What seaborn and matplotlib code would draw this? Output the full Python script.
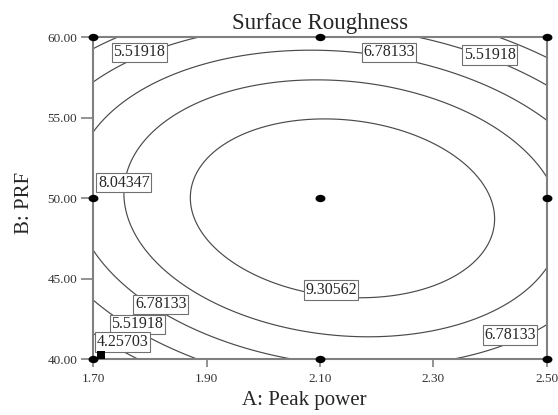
import numpy as np
import pandas as pd
import seaborn as sns
import matplotlib.pyplot as plt
from matplotlib.markers import MarkerStyle
from matplotlib.transforms import Affine2D

coef_names = ['const', 'A', 'B', 'A2', 'B2', 'AB']
coef_values = [10.455, 0.483, -0.41, -2.67, -3.9, -0.76]

levels = [4.25703, 5.51918, 6.78133, 8.04347, 9.30562]

# Points du plan d'expériences
design_a = [1.70, 2.10, 2.50, 1.70, 2.10, 2.50, 1.70, 2.10, 2.50]
design_b = [60, 60, 60, 50, 50, 50, 40, 40, 40]

# Drapeau
flag_a = [1.7136]
flag_b = [40.27]

x_ticks = [1.70, 1.90, 2.10, 2.30, 2.50]
y_ticks = [40, 45, 50, 55, 60]

# Étiquettes des contours
label_values = [5.51918, 6.78133, 5.51918, 8.04347, 9.30562, 6.78133, 5.51918, 4.25703, 6.78133]
label_a = [1.781, 2.222, 2.400, 1.754, 2.1195, 1.819, 1.778, 1.7515, 2.4355]
label_b = [59.07, 59.07, 58.90, 50.98, 44.30, 43.42, 42.18, 41.07, 41.51]

sns.set_style('ticks')
plt.rcParams['font.family'] = ['Liberation Serif', 'DejaVu Serif']

fig = plt.figure(figsize=(5.58, 4.15), dpi=100)
ax = fig.add_axes([0.1672, 0.1342, 0.8124, 0.7759])

# Surface de réponse
A = np.linspace(1.7, 2.5, 300)
B = np.linspace(40, 60, 300)
AA, BB = np.meshgrid(A, B)
a = (AA - 2.1) / 0.4
b = (BB - 50) / 10
c = dict(zip(coef_names, coef_values))
Z = (c['const'] + c['A'] * a + c['B'] * b + c['A2'] * a ** 2
     + c['B2'] * b ** 2 + c['AB'] * a * b)

ax.contour(AA, BB, Z, levels=levels, colors='#4a4a4a', linewidths=0.85)

for v, xa, yb in zip(label_values, label_a, label_b):
    ax.text(xa, yb, f'{v:.5f}', fontsize=11.5, ha='center', va='center', zorder=4,
            bbox=dict(boxstyle='square,pad=0.1', fc='white', ec='#707070', lw=0.8))

# Points
dot = MarkerStyle('o', transform=Affine2D().scale(1.35, 1.0))
pts = pd.DataFrame({'A': design_a, 'B': design_b})
sns.scatterplot(data=pts, x='A', y='B', marker=dot, s=28, color='black',
                edgecolor='black', linewidth=0, clip_on=False, zorder=6, ax=ax)
flag = pd.DataFrame({'A': flag_a, 'B': flag_b})
sns.scatterplot(data=flag, x='A', y='B', marker='s', s=40, color='black',
                edgecolor='black', linewidth=0, clip_on=False, zorder=6, ax=ax)

ax.set_xlim(1.7, 2.5)
ax.set_ylim(40, 60)
ax.set_xticks(x_ticks)
ax.set_xticklabels([f'{v:.2f}' for v in x_ticks])
ax.set_yticks(y_ticks)
ax.set_yticklabels([f'{v:.2f}' for v in y_ticks])

for s in ax.spines.values():
    s.set_color('#808080')
    s.set_linewidth(1.5)
ax.tick_params(axis='y', direction='out', length=8.5, width=1.2, color='#808080',
               pad=3, labelsize=9.5, labelcolor='#333333')
ax.tick_params(axis='x', direction='out', length=6, width=1.2, color='#808080',
               pad=3.5, labelsize=9.5, labelcolor='#333333')

ax.set_title('Surface Roughness', fontsize=16.5, pad=6)
ax.set_xlabel('A: Peak power', fontsize=15)
ax.set_ylabel('B: PRF', fontsize=15)
ax.xaxis.set_label_coords(0.465, -0.098)
ax.yaxis.set_label_coords(-0.13, 0.485)

plt.savefig('out.png', dpi=100)
